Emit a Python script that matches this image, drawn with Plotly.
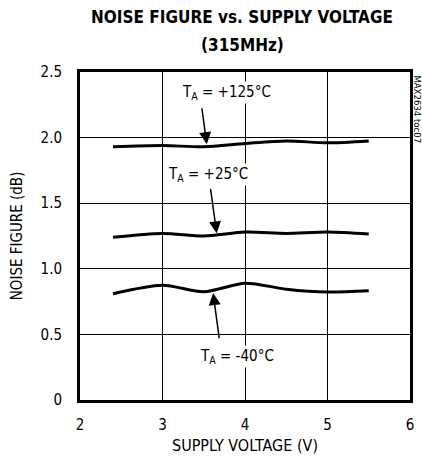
import plotly.graph_objects as go

voltage = [2.4, 3.0, 3.5, 4.0, 4.5, 5.0, 5.5]
nf_125 = [1.93, 1.94, 1.93, 1.955, 1.975, 1.96, 1.975]
nf_25 = [1.24, 1.27, 1.25, 1.28, 1.27, 1.28, 1.265]
nf_m40 = [0.81, 0.875, 0.825, 0.89, 0.845, 0.823, 0.833]

x_ticks = [2, 3, 4, 5, 6]
y_ticks = [0, 0.5, 1.0, 1.5, 2.0, 2.5]
y_tick_text = ["0", "0.5", "1.0", "1.5", "2.0", "2.5"]

FONT = "DejaVu Sans Condensed, Liberation Sans, sans-serif"

fig = go.Figure()
for ys in (nf_125, nf_25, nf_m40):
    fig.add_trace(go.Scatter(x=voltage, y=ys, mode="lines",
                             line=dict(color="black", width=3, shape="spline", smoothing=0.8),
                             showlegend=False, hoverinfo="skip"))

labels = [
    ("T<sub>A</sub> = +125°C", 3.78, 2.34),
    ("T<sub>A</sub> = +25°C", 3.555, 1.715),
    ("T<sub>A</sub> = -40°C", 3.9, 0.33),
]
for t, x, y in labels:
    fig.add_annotation(x=x, y=y, text=t, showarrow=False, bgcolor="white",
                       font=dict(family=FONT, size=15, color="black"))

arrows = [
    (3.54, 1.935, 3.475, 2.235),
    (3.66, 1.255, 3.58, 1.62),
    (3.61, 0.83, 3.69, 0.46),
]
for hx, hy, tx, ty in arrows:
    fig.add_annotation(x=hx, y=hy, ax=tx, ay=ty, axref="x", ayref="y",
                       text="", showarrow=True, arrowhead=2, arrowsize=1.6,
                       arrowwidth=1.5, arrowcolor="black", standoff=2)

fig.add_annotation(text="MAX2634 toc07", xref="paper", yref="paper", x=1.022, y=0.995,
                   xanchor="center", yanchor="top", textangle=90, showarrow=False,
                   font=dict(family=FONT, size=9.5, color="black"))

fig.add_annotation(text="<b>NOISE FIGURE vs. SUPPLY VOLTAGE</b>", xref="paper", yref="paper",
                   x=0.492, y=1.168, xanchor="center", yanchor="middle", showarrow=False,
                   font=dict(family=FONT, size=17, color="black"))
fig.add_annotation(text="<b>(315MHz)</b>", xref="paper", yref="paper",
                   x=0.492, y=1.082, xanchor="center", yanchor="middle", showarrow=False,
                   font=dict(family=FONT, size=17, color="black"))

fig.add_annotation(text="SUPPLY VOLTAGE (V)", xref="paper", yref="paper", x=0.5, y=-0.138,
                   xanchor="center", yanchor="middle", showarrow=False,
                   font=dict(family=FONT, size=16, color="black"))
fig.add_annotation(text="NOISE FIGURE (dB)", xref="paper", yref="paper", x=-0.19, y=0.5,
                   xanchor="center", yanchor="middle", textangle=-90, showarrow=False,
                   font=dict(family=FONT, size=15, color="black"))

fig.update_layout(
    width=422, height=462,
    margin=dict(l=80, r=12, t=72, b=62),
    paper_bgcolor="white", plot_bgcolor="white",
    font=dict(family=FONT, size=15, color="black"),
)
fig.update_xaxes(range=[2, 6], tickvals=x_ticks, showgrid=True, gridcolor="black", gridwidth=1,
                 showline=True, linecolor="black", linewidth=3, mirror=True, zeroline=False,
                 ticks="", ticklabelstandoff=9, automargin=False)
fig.update_yaxes(range=[0, 2.5], tickvals=y_ticks, ticktext=y_tick_text, showgrid=True,
                 gridcolor="black", gridwidth=1,
                 showline=True, linecolor="black", linewidth=3, mirror=True, zeroline=False,
                 ticks="", ticklabelstandoff=12, automargin=False)

fig.write_html("out.html", config={"displayModeBar": False},
               post_script="document.body.style.margin='0';document.body.style.overflow='hidden';")
